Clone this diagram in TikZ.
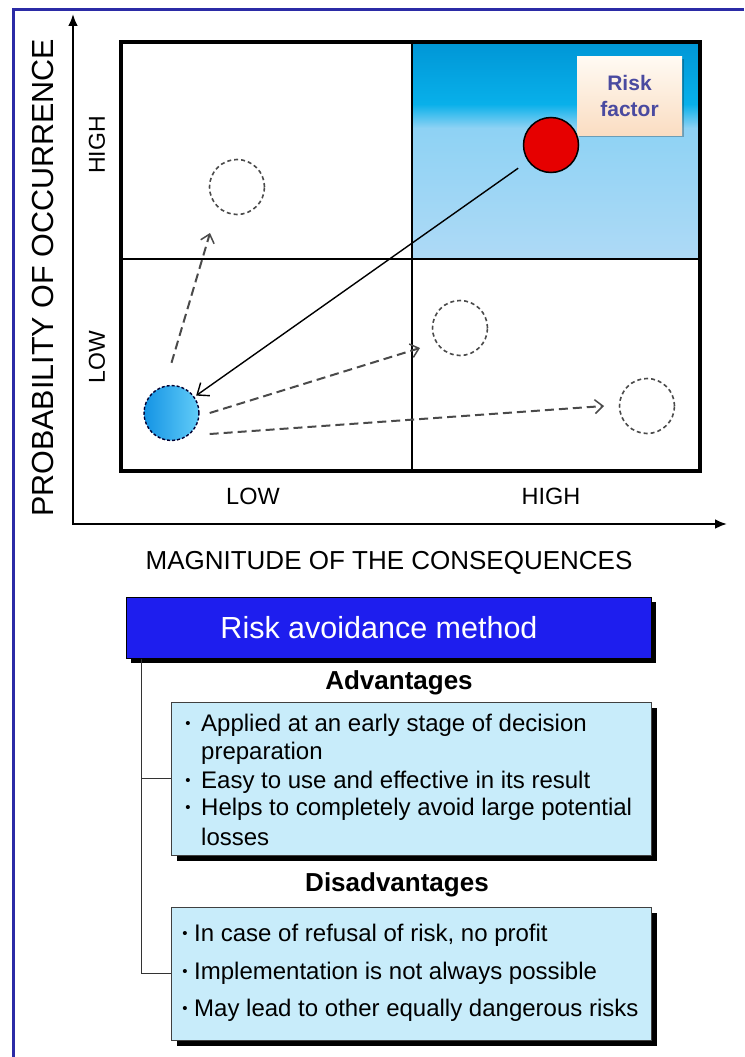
\documentclass[tikz,border=0pt]{standalone}
\usepackage{fontspec}
\setmainfont{Liberation Sans}
\usetikzlibrary{arrows.meta,shadows,calc}
\definecolor{framecol}{HTML}{2B2BA6}
\definecolor{qtop}{HTML}{0096D6}
\definecolor{qmid}{HTML}{08B0EA}
\definecolor{qlow}{HTML}{8ED2F4}
\definecolor{qbot}{HTML}{AEDAF6}
\definecolor{rftext}{HTML}{4A4AA0}
\definecolor{rftop}{HTML}{FFFAF3}
\definecolor{rfbot}{HTML}{FADDC2}
\definecolor{titleblue}{HTML}{1E1EEE}
\definecolor{boxfill}{HTML}{C8ECFA}
\definecolor{dashgray}{HTML}{4A4A4A}
\definecolor{bluel}{HTML}{1494E4}
\definecolor{bluer}{HTML}{62CCF8}
\tikzset{
  fs/.style={font=\fontsize{#1}{#1}\selectfont},
  ghost/.style={circle, minimum size=55pt, inner sep=0pt, draw=dashgray, line width=1.6pt, dash pattern=on 4pt off 3pt},
  movearrow/.style={draw=dashgray, line width=2pt, dash pattern=on 9pt off 5pt, -{Straight Barb[length=8pt,width=14pt,line width=1.5pt]}},
  infobox/.style={draw=black!75, line width=1pt, fill=boxfill, inner sep=0pt,
    drop shadow={shadow xshift=6pt, shadow yshift=-6pt, fill=black, opacity=1}},
  item/.style={anchor=west, fs=24, inner sep=0pt},
  bul/.style={anchor=center, fs=15, inner sep=0pt},
  link/.style={draw=black!80, line width=1.5pt}
}
\begin{document}
\begin{tikzpicture}[x=1pt,y=-1pt]
\useasboundingbox (0,0) rectangle (744,1057);
\fill[white] (0,0) rectangle (744,1057);
% frame
\draw[framecol, line width=3pt] (13,1057) -- (13,10) -- (744,10);
% axes
\coordinate (O) at (73,524);
\coordinate (ytip) at (73,14);
\coordinate (xtip) at (727,524);
\draw[line width=2.5pt, -{Latex[length=12pt,width=10pt]}] (O) -- (ytip);
\draw[line width=2.5pt, -{Latex[length=12pt,width=10pt]}] ([xshift=-1pt]O) -- (xtip);
% shaded quadrant
\shade[top color=qtop, bottom color=qmid] (412,42) rectangle (700,104);
\shade[top color=qmid, bottom color=qlow] (412,104) rectangle (700,128);
\shade[top color=qlow, bottom color=qbot] (412,128) rectangle (700,259);
% grid
\draw[line width=1.5pt] (412,42) -- (412,471);
\draw[line width=1.5pt] (121,259) -- (700,259);
\draw[line width=3.5pt] (121,42) rectangle (700,471);
% labels
\node[rotate=90, fs=30.5] (ylab) at (43,278) {PROBABILITY OF OCCURRENCE};
\node[fs=26] (xlab) at (389,563) {MAGNITUDE OF THE CONSEQUENCES};
\node[rotate=90, fs=23] (yhigh) at (97,145) {HIGH};
\node[rotate=90, fs=23] (ylow) at (97,357) {LOW};
\node[fs=23.5] (xlow) at (253,496) {LOW};
\node[fs=23.5] (xhigh) at (551,496) {HIGH};
% risk factor box
\node[minimum width=105pt, minimum height=78pt, inner sep=0pt, top color=rftop, bottom color=rfbot,
  drop shadow={shadow xshift=2pt, shadow yshift=-2pt, fill=black, opacity=0.25},
  text=rftext, font=\bfseries\fontsize{21}{26}\selectfont, align=center] (rf) at (629.5,96) {Risk\\factor};
% circles
\node[circle, minimum size=55pt, inner sep=0pt, fill={rgb,255:red,230;green,0;blue,0}, draw=black, line width=1.5pt] (red) at (551,145) {};
\node[ghost] (c1) at (237,187) {};
\node[ghost] (c2) at (460,328) {};
\node[ghost] (c3) at (647,406) {};
\node[circle, minimum size=55pt, inner sep=0pt, left color=bluel, right color=bluer, draw=black!80!blue, line width=1.4pt, dash pattern=on 3pt off 2pt] (blue) at (171.5,413) {};
% arrows
\draw[line width=1.4pt, -{Straight Barb[length=10pt,width=16pt,line width=1.4pt]}, shorten <=12pt, shorten >=2pt] (red) -- (blue);
\draw[movearrow] ([yshift=22pt]blue.north) -- ([xshift=-27pt,yshift=-46pt]c1.center);
\draw[movearrow] ([xshift=10pt]blue.east) -- ([xshift=-40pt,yshift=-20pt]c2.center);
\draw[movearrow] ([xshift=10pt,yshift=-21pt]blue.east) -- ([xshift=-43pt]c3.center);
% bottom section
\node[minimum width=525pt, minimum height=61pt, inner sep=0pt, fill=titleblue, draw=black, line width=1pt,
  drop shadow={shadow xshift=5pt, shadow yshift=-5pt, fill=black, opacity=1}] (title) at (388.5,627.5) {};
\node[text=white, fs=30.5] (titletext) at (379,627.5) {Risk avoidance method};
\node[font=\bfseries\fontsize{26}{26}\selectfont] (advlab) at (399,683) {Advantages};
\node[infobox, minimum width=480pt, minimum height=153pt] (adv) at (411,778.5) {};
\node[font=\bfseries\fontsize{26}{26}\selectfont] (dislab) at (397,885) {Disadvantages};
\node[infobox, minimum width=480pt, minimum height=133pt] (dis) at (411,973.5) {};
\draw[link] ([xshift=16pt]title.south west) |- (adv.west);
\draw[link] ([xshift=16pt]title.south west) |- (dis.west);
% advantages text
\node[bul] (ab1) at (188,725) {•};
\node[item] (a1) at (201,725) {Applied at an early stage of decision};
\node[item] (a1b) at (201,753) {preparation};
\node[bul] (ab2) at (188,782) {•};
\node[item] (a2) at (201,782) {Easy to use and effective in its result};
\node[bul] (ab3) at (188,809) {•};
\node[item] (a3) at (201,809) {Helps to completely avoid large potential};
\node[item] (a3b) at (201,837) {losses};
% disadvantages text
\node[bul] (db1) at (185,935) {•};
\node[item] (d1) at (194,935) {In case of refusal of risk, no profit};
\node[bul] (db2) at (185,973) {•};
\node[item] (d2) at (194,973) {Implementation is not always possible};
\node[bul] (db3) at (185,1010) {•};
\node[item] (d3) at (194,1010) {May lead to other equally dangerous risks};
\end{tikzpicture}
\end{document}
